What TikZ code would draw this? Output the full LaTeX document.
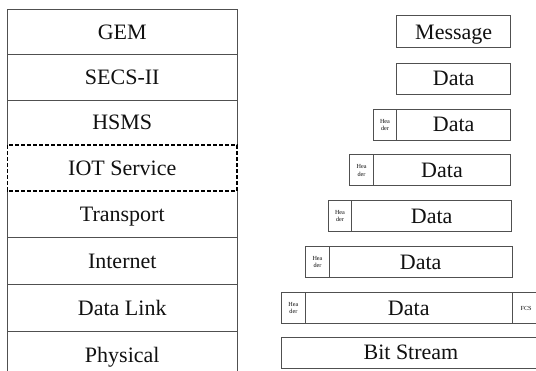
\documentclass[tikz,border=0pt]{standalone}
\usepackage{fontspec}
\setmainfont{Liberation Serif}
\definecolor{linegray}{HTML}{505050}
\definecolor{txt}{HTML}{111111}
\begin{document}
\begin{tikzpicture}[x=1pt,y=-1pt,
  layer/.style={inner sep=0pt, minimum width=229.5pt, text=txt,
    font=\fontsize{22}{24}\selectfont, text height=14.4pt, text depth=0pt},
  rbox/.style={draw=linegray, line width=1pt, inner sep=0pt, text=txt,
    font=\fontsize{22}{24}\selectfont, text height=14.4pt, text depth=0pt},
  hdr/.style={draw=linegray, line width=1pt, inner sep=0pt, text=txt, align=center,
    font=\fontsize{6.2}{7.5}\selectfont, minimum width=23.5pt},
  sline/.style={draw=linegray, line width=1.1pt},
  dline/.style={draw=black, line width=1.6pt, dash pattern=on 4pt off 2pt}]
\useasboundingbox (0,0) rectangle (536,371);
\fill[white] (0,0) rectangle (536,371);
\clip (0,0) rectangle (536,371);
% left stack
\node[layer, minimum height=45pt]   (gem)  at (122.25,32)    {GEM};
\node[layer, minimum height=45.5pt] (secs) at (122.25,77.25) {SECS-II};
\node[layer, minimum height=45.5pt] (hsms) at (122.25,122.75){HSMS};
\node[layer, minimum height=45.5pt] (iot)  at (122.25,168.25){IOT Service};
\node[layer, minimum height=46.5pt] (trans) at (122.25,214.25){Transport};
\node[layer, minimum height=47pt]   (inet) at (122.25,261)   {Internet};
\node[layer, minimum height=47pt]   (dlink) at (122.25,308)  {Data Link};
\node[layer, minimum height=47pt]   (phys) at (122.25,355)   {Physical};
\draw[sline] (hsms.south west) -- (gem.north west) -- (gem.north east) -- (hsms.south east);
\draw[sline] (gem.south west) -- (gem.south east);
\draw[sline] (secs.south west) -- (secs.south east);
\draw[sline] (phys.south west) -- (trans.north west);
\draw[sline] (phys.south east) -- (trans.north east);
\draw[sline] (trans.south west) -- (trans.south east);
\draw[sline] (inet.south west) -- (inet.south east);
\draw[sline] (dlink.south west) -- (dlink.south east);
\draw[dline] (iot.north west) rectangle (iot.south east);
% right side
\node[rbox, minimum width=114pt, minimum height=31.7pt] (msg) at (453.7,31.85) {Message};
\node[rbox, minimum width=114pt, minimum height=31pt] (d1) at (453.7,78.8) {Data};
\node[hdr, minimum height=31pt] (h2) at (385,124.8) {Hea\\der};
\node[rbox, minimum width=114pt, minimum height=31pt] (d2) at (453.7,124.8) {Data};
\node[hdr, minimum height=30.7pt] (h3) at (361.55,170.35) {Hea\\der};
\node[rbox, minimum width=137.4pt, minimum height=30.7pt] (d3) at (442,170.35) {Data};
\node[hdr, minimum height=31pt] (h4) at (340,216.2) {Hea\\der};
\node[rbox, minimum width=160pt, minimum height=31pt] (d4) at (431.7,216.2) {Data};
\node[hdr, minimum height=30.6pt] (h5) at (317.5,262) {Hea\\der};
\node[rbox, minimum width=182.7pt, minimum height=30.6pt] (d5) at (420.65,262) {Data};
\node[hdr, minimum height=30.6pt] (h6) at (293.45,308) {Hea\\der};
\node[rbox, minimum width=207.1pt, minimum height=30.6pt] (d6) at (408.75,308) {Data};
\node[hdr, minimum width=27.7pt, minimum height=30.6pt] (fcs) at (526.15,308) {FCS};
\node[rbox, minimum width=258.5pt, minimum height=31pt] (bits) at (410.95,352.8) {Bit Stream};
\end{tikzpicture}
\end{document}
